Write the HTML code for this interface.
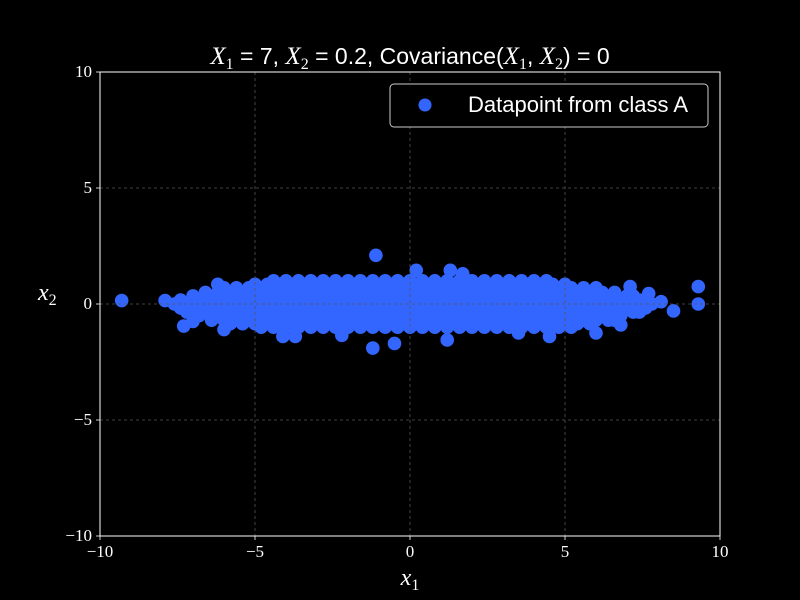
<!DOCTYPE html>
<html><head><meta charset="utf-8">
<style>
html,body{margin:0;padding:0;background:#000;}
svg{display:block;}
.tk{font-family:"Liberation Serif",serif;font-size:17px;fill:#fff;}
</style></head>
<body>
<svg id="chart" width="800" height="600" viewBox="0 0 800 600">
<rect width="800" height="600" fill="#000"/>
<text x="410" y="64" text-anchor="middle" font-family="Liberation Sans, sans-serif" font-size="23" fill="#fff"><tspan font-family="Liberation Serif, serif" font-style="italic" font-size="25">X</tspan><tspan font-size="16" dy="5" font-family="Liberation Serif, serif">1</tspan><tspan dy="-5"> = 7, </tspan><tspan font-family="Liberation Serif, serif" font-style="italic" font-size="25">X</tspan><tspan font-size="16" dy="5" font-family="Liberation Serif, serif">2</tspan><tspan dy="-5"> = 0.2, Covariance(</tspan><tspan font-family="Liberation Serif, serif" font-style="italic" font-size="25">X</tspan><tspan font-size="16" dy="5" font-family="Liberation Serif, serif">1</tspan><tspan dy="-5">, </tspan><tspan font-family="Liberation Serif, serif" font-style="italic" font-size="25">X</tspan><tspan font-size="16" dy="5" font-family="Liberation Serif, serif">2</tspan><tspan dy="-5">) = 0</tspan></text>
<g id="points"></g>
<g id="grid"></g>
<rect x="100" y="72" width="620" height="464" fill="none" stroke="#fff" stroke-width="1"/>
<g id="ticks"></g>
<text x="410" y="585" text-anchor="middle" font-family="Liberation Serif, serif" font-style="italic" font-size="24" fill="#fff">x<tspan font-size="16" dy="5" font-style="normal">1</tspan></text>
<text x="38" y="300" font-family="Liberation Serif, serif" font-style="italic" font-size="24" fill="#fff">x<tspan font-size="16" dy="5" font-style="normal">2</tspan></text>
<g>
<rect x="390" y="84" width="318" height="43" rx="4" fill="#000" stroke="#ccc" stroke-width="1"/>
<circle cx="425" cy="105" r="6.5" fill="#3366ff"/>
<text x="468" y="112" font-family="Liberation Sans, sans-serif" font-size="22" fill="#fff">Datapoint from class A</text>
</g>
</svg>
<script>
const xTicks=[-10,-5,0,5,10];
const yTicks=[-10,-5,0,5,10];
const xTickLabels=["\u221210","\u22125","0","5","10"];
const yTickLabels=["\u221210","\u22125","0","5","10"];
const rowY=[1.0,0.85,0.7,0.5,0.35,0.17,0.0,-0.17,-0.35,-0.5,-0.7,-0.85,-1.0];
const rowXs=[
[-4.4,-4,-3.6,-3.2,-2.8,-2.4,-2,-1.6,-1.2,-0.8,-0.4,0,0.4,0.8,1.2,1.6,2,2.4,2.8,3.2,3.6,4,4.4],
[-5,-4.6,-4.2,-3.8,-3.4,-3,-2.6,-2.2,-1.8,-1.4,-1,-0.6,-0.2,0.2,0.6,1,1.4,1.8,2.2,2.6,3,3.4,3.8,4.2,4.6,5],
[-6,-5.6,-5.2,-4.8,-4.4,-4,-3.6,-3.2,-2.8,-2.4,-2,-1.6,-1.2,-0.8,-0.4,0,0.4,0.8,1.2,1.6,2,2.4,2.8,3.2,3.6,4,4.4,4.8,5.2,5.6,6],
[-6.6,-6.2,-5.8,-5.4,-5,-4.6,-4.2,-3.8,-3.4,-3,-2.6,-2.2,-1.8,-1.4,-1,-0.6,-0.2,0.2,0.6,1,1.4,1.8,2.2,2.6,3,3.4,3.8,4.2,4.6,5,5.4,5.8,6.2,6.6],
[-7,-6.6,-6.2,-5.8,-5.4,-5,-4.6,-4.2,-3.8,-3.4,-3,-2.6,-2.2,-1.8,-1.4,-1,-0.6,-0.2,0.2,0.6,1,1.4,1.8,2.2,2.6,3,3.4,3.8,4.2,4.6,5,5.4,5.8,6.2,6.6,7,7.2],
[-7.4,-7,-6.6,-6.2,-5.8,-5.4,-5,-4.6,-4.2,-3.8,-3.4,-3,-2.6,-2.2,-1.8,-1.4,-1,-0.6,-0.2,0.2,0.6,1,1.4,1.8,2.2,2.6,3,3.4,3.8,4.2,4.6,5,5.4,5.8,6.2,6.6,7,7.4],
[-7.6,-7.2,-6.8,-6.4,-6,-5.6,-5.2,-4.8,-4.4,-4,-3.6,-3.2,-2.8,-2.4,-2,-1.6,-1.2,-0.8,-0.4,0,0.4,0.8,1.2,1.6,2,2.4,2.8,3.2,3.6,4,4.4,4.8,5.2,5.6,6,6.4,6.8,7.2,7.6,7.8],
[-7.4,-7,-6.6,-6.2,-5.8,-5.4,-5,-4.6,-4.2,-3.8,-3.4,-3,-2.6,-2.2,-1.8,-1.4,-1,-0.6,-0.2,0.2,0.6,1,1.4,1.8,2.2,2.6,3,3.4,3.8,4.2,4.6,5,5.4,5.8,6.2,6.6,7,7.4,7.6],
[-7.2,-6.8,-6.4,-6,-5.6,-5.2,-4.8,-4.4,-4,-3.6,-3.2,-2.8,-2.4,-2,-1.6,-1.2,-0.8,-0.4,0,0.4,0.8,1.2,1.6,2,2.4,2.8,3.2,3.6,4,4.4,4.8,5.2,5.6,6,6.4,6.8,7.2,7.4],
[-6.8,-6.4,-6,-5.6,-5.2,-4.8,-4.4,-4,-3.6,-3.2,-2.8,-2.4,-2,-1.6,-1.2,-0.8,-0.4,0,0.4,0.8,1.2,1.6,2,2.4,2.8,3.2,3.6,4,4.4,4.8,5.2,5.6,6,6.4,6.8],
[-6.4,-6,-5.6,-5.2,-4.8,-4.4,-4,-3.6,-3.2,-2.8,-2.4,-2,-1.6,-1.2,-0.8,-0.4,0,0.4,0.8,1.2,1.6,2,2.4,2.8,3.2,3.6,4,4.4,4.8,5.2,5.6,6,6.4,6.6],
[-5.8,-5.4,-5,-4.6,-4.2,-3.8,-3.4,-3,-2.6,-2.2,-1.8,-1.4,-1,-0.6,-0.2,0.2,0.6,1,1.4,1.8,2.2,2.6,3,3.4,3.8,4.2,4.6,5,5.4,5.8],
[-4.8,-4.4,-4,-3.6,-3.2,-2.8,-2.4,-2,-1.6,-1.2,-0.8,-0.4,0,0.4,0.8,1.2,1.6,2,2.4,2.8,3.2,3.6,4,4.4,4.8,5.2]
];
const outlierX=[-9.3,9.3,9.3,-1.1,-1.2,-0.5,1.2,8.5,8.1,-7.9,-7.3,7.7,-6.0,6.0,4.5,-4.1,-3.7,1.3,1.7,-6.2,7.1,-2.2,0.2,-7.0,6.8,3.5];
const outlierY=[0.15,0.75,0.0,2.1,-1.9,-1.7,-1.55,-0.3,0.1,0.15,-0.95,0.45,-1.1,-1.25,-1.4,-1.4,-1.4,1.45,1.3,0.85,0.75,-1.35,1.45,-0.75,-0.9,-1.25];

const NS="http://www.w3.org/2000/svg";
const sx=v=>100+(v+10)*31;
const sy=v=>304-v*23.2;
const pts=document.getElementById('points');
function dot(x,y){
  const c=document.createElementNS(NS,'circle');
  c.setAttribute('cx',sx(x));c.setAttribute('cy',sy(y));c.setAttribute('r',6.8);c.setAttribute('fill','#3366ff');
  
  
  pts.appendChild(c);
}
rowY.forEach((y,i)=>rowXs[i].forEach(x=>dot(x,y)));
outlierX.forEach((x,i)=>dot(x,outlierY[i]));

const grid=document.getElementById('grid');
const tk=document.getElementById('ticks');
function line(g,x1,y1,x2,y2,st,dash,name){
  const l=document.createElementNS(NS,'line');
  l.setAttribute('x1',x1);l.setAttribute('y1',y1);l.setAttribute('x2',x2);l.setAttribute('y2',y2);
  l.setAttribute('stroke',st);l.setAttribute('stroke-width',0.8);
  if(dash)l.setAttribute('stroke-dasharray',dash);
  
  
  g.appendChild(l);
}
function label(x,y,t,anchor,name){
  const e=document.createElementNS(NS,'text');
  e.setAttribute('x',x);e.setAttribute('y',y);e.setAttribute('text-anchor',anchor);e.setAttribute('class','tk');
  e.textContent=t;
  
  
  tk.appendChild(e);
}
xTicks.forEach((v,i)=>{
  const x=sx(v);
  if(v>-10&&v<10) line(grid,x,72,x,536,'#555','3,3','x-grid-line');
  line(tk,x,536,x,540,'#fff',null,'x-tick');
  label(x,557,xTickLabels[i],'middle','x-tick-label');
});
yTicks.forEach((v,i)=>{
  const yy=72+(10-v)/20*464;
  if(v>-10&&v<10) line(grid,100,yy,720,yy,'#555','3,3','y-grid-line');
  line(tk,96,yy,100,yy,'#fff',null,'y-tick');
  label(92,yy+5,yTickLabels[i],'end','y-tick-label');
});
</script>
</body></html>
